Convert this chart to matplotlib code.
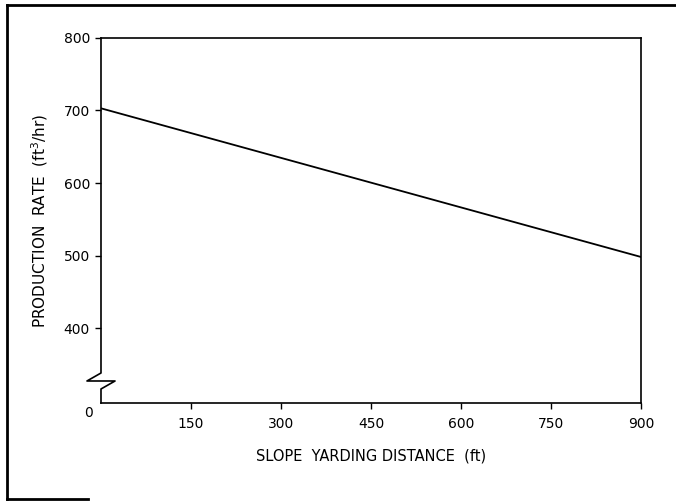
import numpy as np
import matplotlib
matplotlib.use("Agg")
import matplotlib.pyplot as plt
from matplotlib.lines import Line2D

# ----------------------------
# Data
# ----------------------------
distance = [0, 900]          # slope yarding distance (ft)
rate = [703, 498]            # production rate (ft3/hr)

x_ticks = [150, 300, 450, 600, 750, 900]
y_ticks = [400, 500, 600, 700, 800]

# broken y axis: 0..400 squeezed into a short stub
BREAK = 400.0
SQUEEZE = 103.4 / 400.0


def fwd(y):
    y = np.asarray(y, dtype=float)
    return np.where(y >= BREAK, y, BREAK - (BREAK - y) * SQUEEZE)


def inv(v):
    v = np.asarray(v, dtype=float)
    return np.where(v >= BREAK, v, BREAK - (BREAK - v) / SQUEEZE)


plt.rcParams['font.family'] = ['DejaVu Sans']

fig = plt.figure(figsize=(6.76, 5.01), dpi=100)
ax = fig.add_axes([0.1494, 0.1956, 0.7988, 0.7286])

ax.plot(distance, rate, color="black", lw=1.3)

ax.set_yscale("function", functions=(fwd, inv))
ax.set_xlim(0, 900)
ax.set_ylim(0, 800)

ax.set_xticks(x_ticks)
ax.set_yticks(y_ticks)
ax.tick_params(direction="out", length=4, width=1, labelsize=10, pad=4, color="black")
ax.tick_params(axis="x", pad=6)

for s in ax.spines.values():
    s.set_linewidth(1.2)
ax.spines["left"].set_visible(False)

# left spine with zigzag break
zx = [0, 0, -0.026, 0.026, 0, 0]
zy = [1, 0.0822, 0.0603, 0.0603, 0.0384, 0]
ax.add_line(Line2D(zx, zy, transform=ax.transAxes, color="black", lw=1.2, clip_on=False))

# the single "0" at the corner
ax.annotate("0", xy=(0, 0), xytext=(-9, -7), textcoords="offset points",
            ha="center", va="center", fontsize=10)

ax.set_xlabel("SLOPE  YARDING DISTANCE  (ft)", fontsize=10.5, labelpad=13)
ax.set_ylabel("PRODUCTION  RATE  (ft$^3$/hr)", fontsize=11, labelpad=10)

# outer frame of the scanned figure
fig.add_artist(Line2D([0.0104, 1.0], [0.990, 0.990], transform=fig.transFigure, color="black", lw=2))
fig.add_artist(Line2D([0.0104, 0.0104], [0.990, 0.003], transform=fig.transFigure, color="black", lw=2))
fig.add_artist(Line2D([0.0104, 0.13], [0.003, 0.003], transform=fig.transFigure, color="black", lw=2))

fig.savefig("out.png", dpi=100)
